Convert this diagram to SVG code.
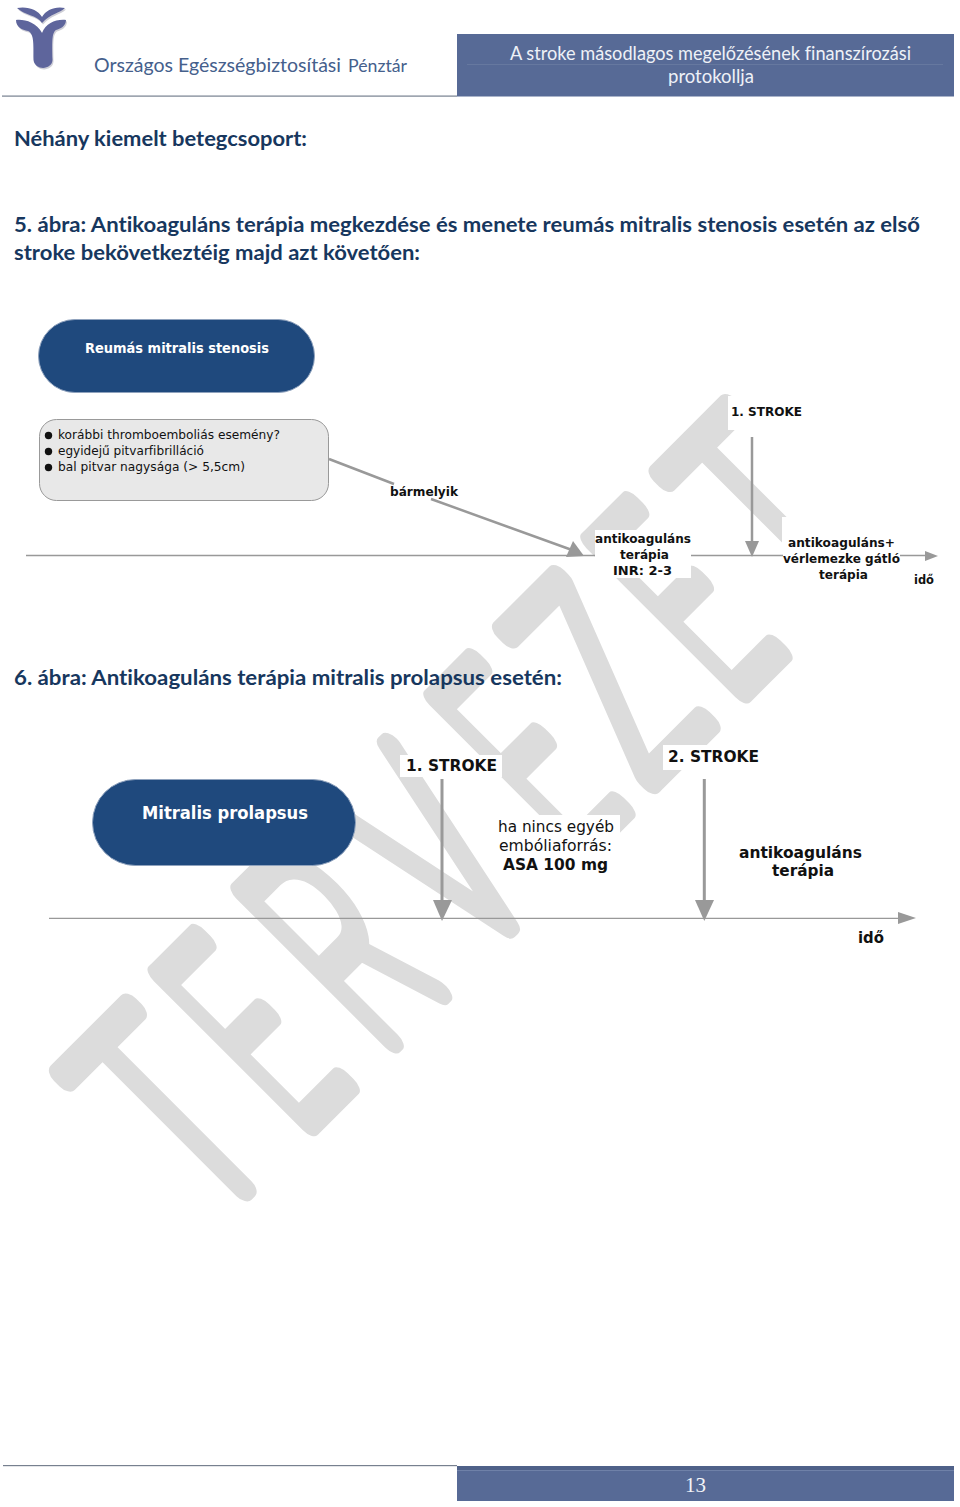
<svg xmlns="http://www.w3.org/2000/svg" width="960" height="1507" viewBox="0 0 960 1507">
<style>
text{font-family:"DejaVu Sans",Verdana,sans-serif;fill:#111;font-variant-ligatures:none}
.b{font-weight:700}
.h{font-family:Lato,"Open Sans",sans-serif;font-weight:700;font-size:21.5px;fill:#17375e}
.hw{font-family:Lato,"Open Sans",sans-serif;font-size:19.5px;fill:#eef1f7}
.wm{font-family:Roboto,"Liberation Sans",sans-serif;font-weight:100;font-size:296px;fill:#dcdcdc;stroke:#dcdcdc;stroke-width:22px;stroke-linejoin:round;vector-effect:non-scaling-stroke;text-anchor:middle}
.s{font-size:13px}.l{font-size:13px;font-weight:700}
.m{font-size:16.5px}
.pill{fill:#1f497d;stroke:#8fa2bd;stroke-width:1}
.ln{stroke:#999;fill:none}
.ah{fill:#999}
.w{fill:#fff}
</style>
<rect width="960" height="1507" fill="#fff"/>
<g id="watermark" transform="rotate(-45)">
<text class="wm" transform="translate(-668,1013) scale(.62,1)">T</text>
<text class="wm" transform="translate(-553,1013) scale(.46,1)">E</text>
<text class="wm" transform="translate(-427,1013) scale(.5,1)">R</text>
<text class="wm" transform="translate(-296,1013) scale(.56,1)">V</text>
<text class="wm" transform="translate(-163,1013) scale(.46,1)">E</text>
<text class="wm" transform="translate(-52,1013) scale(.57,1)">Z</text>
<text class="wm" transform="translate(59,1013) scale(.46,1)">E</text>
<text class="wm" transform="translate(180,1013) scale(.62,1)">T</text>
</g>
<g id="header">
<g id="logo">
<g fill="#a9a9b8" opacity=".55" transform="translate(1 1.5)">
<path d="M17 8C28 6 38 10 42 17C46 10 55 6 65 8C60 13 50 14 42 23C37 15 24 15 17 8Z"/>
<path d="M16 20C24 19 36 22 42 33C46 23 56 19 66 20C66 26 60 29 56 30C52 33 52 40 52.5 60C52 70 35 71 33.5 60C33.5 42 34 34 28 31C22 30 16 27 16 20Z"/>
</g>
<g fill="#5e659c">
<path d="M17 8C28 6 38 10 42 17C46 10 55 6 65 8C60 13 50 14 42 23C37 15 24 15 17 8Z"/>
<path d="M16 20C24 19 36 22 42 33C46 23 56 19 66 20C66 26 60 29 56 30C52 33 52 40 52.5 60C52 70 35 71 33.5 60C33.5 42 34 34 28 31C22 30 16 27 16 20Z"/>
</g>
</g>
<text style="font-family:Lato,'Open Sans',sans-serif;font-size:20px;fill:#45608c" x="94" y="72" textLength="247" lengthAdjust="spacingAndGlyphs">Országos Egészségbiztosítási</text>
<text style="font-family:Lato,'Open Sans',sans-serif;font-size:17px;fill:#45608c" x="348" y="72" textLength="59" lengthAdjust="spacingAndGlyphs">Pénztár</text>
<rect x="2" y="95.5" width="455" height="1.2" fill="#77808f"/>
<rect x="457" y="34" width="497" height="62.5" fill="#576a96"/>
<rect x="467" y="64" width="476" height="1" fill="#66789f"/>
<text class="hw" x="510" y="60" textLength="401" lengthAdjust="spacingAndGlyphs">A stroke másodlagos megelőzésének finanszírozási</text>
<text class="hw" x="668" y="83" textLength="86" lengthAdjust="spacingAndGlyphs">protokollja</text>
</g>
<g id="titles">
<text class="h" x="14" y="146" textLength="293" lengthAdjust="spacingAndGlyphs">Néhány kiemelt betegcsoport:</text>
<text class="h" x="14" y="232" textLength="906" lengthAdjust="spacingAndGlyphs">5. ábra: Antikoaguláns terápia megkezdése és menete reumás mitralis stenosis esetén az első</text>
<text class="h" x="14" y="260" textLength="406" lengthAdjust="spacingAndGlyphs">stroke bekövetkeztéig majd azt követően:</text>
<text class="h" x="14" y="685" textLength="548" lengthAdjust="spacingAndGlyphs">6. ábra: Antikoaguláns terápia mitralis prolapsus esetén:</text>
</g>
<g id="masks" class="w">
<rect x="728" y="396" width="82" height="34"/>
<rect x="782" y="517" width="120" height="88"/>
<rect x="595" y="530" width="96" height="48"/>
<rect x="400" y="755" width="102" height="22"/>
<rect x="663" y="745" width="100" height="25"/>
<rect x="490" y="815" width="130" height="65"/>
<rect x="390" y="485" width="68" height="13"/>
</g>
<g id="connectors">
<path class="ln" stroke-width="2.5" d="M329 459L394 484M431 499L572 550"/>
<path class="ah" d="M584 556L566 557L573 541Z"/>
<path class="ln" stroke-width="1.3" d="M26 555.5H595M691 555.5H783M900 555.5H926"/>
<path class="ah" d="M938 556L925 551V561Z"/>
<path class="ln" stroke-width="2.5" d="M752 437V542"/>
<path class="ah" d="M745 541H759L752 557Z"/>
<path class="ln" stroke-width="1.3" d="M49 918.3H898"/>
<path class="ah" d="M916 918L898 912V924Z"/>
<path class="ln" stroke-width="3" d="M442 779V902"/>
<path class="ah" d="M433 900H452L442 921Z"/>
<path class="ln" stroke-width="3" d="M704.3 779V902"/>
<path class="ah" d="M695 900H714L704.3 921Z"/>
</g>
<g id="node-reumas">
<rect class="pill" x="38.5" y="319.5" width="276" height="73" rx="36.5"/>
<text class="b" style="fill:#fff;font-size:14px" x="85" y="353" textLength="184" lengthAdjust="spacingAndGlyphs">Reumás mitralis stenosis</text>
</g>
<g id="node-feltetelek">
<rect x="39.5" y="419.5" width="289" height="81" rx="17" fill="#e8e8e8" stroke="#999"/>
<circle cx="48.5" cy="435.5" r="3.7" fill="#111"/><circle cx="48.5" cy="451.5" r="3.7" fill="#111"/><circle cx="48.5" cy="467.5" r="3.7" fill="#111"/>
<text class="s" x="58" y="439" textLength="222" lengthAdjust="spacingAndGlyphs">korábbi thromboemboliás esemény?</text>
<text class="s" x="58" y="455" textLength="146" lengthAdjust="spacingAndGlyphs">egyidejű pitvarfibrilláció</text>
<text class="s" x="58" y="471" textLength="187" lengthAdjust="spacingAndGlyphs">bal pitvar nagysága (&gt; 5,5cm)</text>
</g>
<g id="labels-1">
<text class="l" x="390" y="496" textLength="68" lengthAdjust="spacingAndGlyphs">bármelyik</text>
<text class="l" x="731" y="416" textLength="71" lengthAdjust="spacingAndGlyphs">1. STROKE</text>
<text class="l" x="595" y="543" textLength="96" lengthAdjust="spacingAndGlyphs">antikoaguláns</text>
<text class="l" x="620" y="559" textLength="49" lengthAdjust="spacingAndGlyphs">terápia</text>
<text class="l" x="613" y="575" textLength="59" lengthAdjust="spacingAndGlyphs">INR: 2-3</text>
<text class="l" x="788" y="547" textLength="107" lengthAdjust="spacingAndGlyphs">antikoaguláns+</text>
<text class="l" x="783" y="563" textLength="117" lengthAdjust="spacingAndGlyphs">vérlemezke gátló</text>
<text class="l" x="819" y="579" textLength="49" lengthAdjust="spacingAndGlyphs">terápia</text>
<text class="l" x="914" y="584" textLength="20" lengthAdjust="spacingAndGlyphs">idő</text>
</g>
<g id="node-mitralis">
<rect class="pill" x="92.5" y="779.5" width="263" height="86" rx="43"/>
<text class="b" style="fill:#fff;font-size:17px" x="142" y="819" textLength="166" lengthAdjust="spacingAndGlyphs">Mitralis prolapsus</text>
</g>
<g id="labels-2">
<text class="b m" x="406" y="771" textLength="91" lengthAdjust="spacingAndGlyphs">1. STROKE</text>
<text class="b m" x="668" y="762" textLength="91" lengthAdjust="spacingAndGlyphs">2. STROKE</text>
<text class="m" x="498" y="832" textLength="116" lengthAdjust="spacingAndGlyphs">ha nincs egyéb</text>
<text class="m" x="499" y="851" textLength="113" lengthAdjust="spacingAndGlyphs">embóliaforrás:</text>
<text class="b m" x="503" y="870" textLength="105" lengthAdjust="spacingAndGlyphs">ASA 100 mg</text>
<text class="b m" x="739" y="858" textLength="123" lengthAdjust="spacingAndGlyphs">antikoaguláns</text>
<text class="b m" x="772" y="876" textLength="62" lengthAdjust="spacingAndGlyphs">terápia</text>
<text class="b m" x="858" y="943" textLength="26" lengthAdjust="spacingAndGlyphs">idő</text>
</g>
<g id="footer">
<rect x="3" y="1465" width="454" height="1.2" fill="#77808f"/>
<rect x="457" y="1466" width="497" height="35" fill="#576a96"/>
<rect x="457" y="1466" width="497" height="4" fill="#4f6189"/>
<rect x="457" y="1470" width="497" height="1" fill="#6f81a8"/>
<text style="font-family:'Liberation Serif',serif;font-size:22px;fill:#f2f4f8" x="685" y="1492" textLength="21" lengthAdjust="spacingAndGlyphs">13</text>
</g>
</svg>
